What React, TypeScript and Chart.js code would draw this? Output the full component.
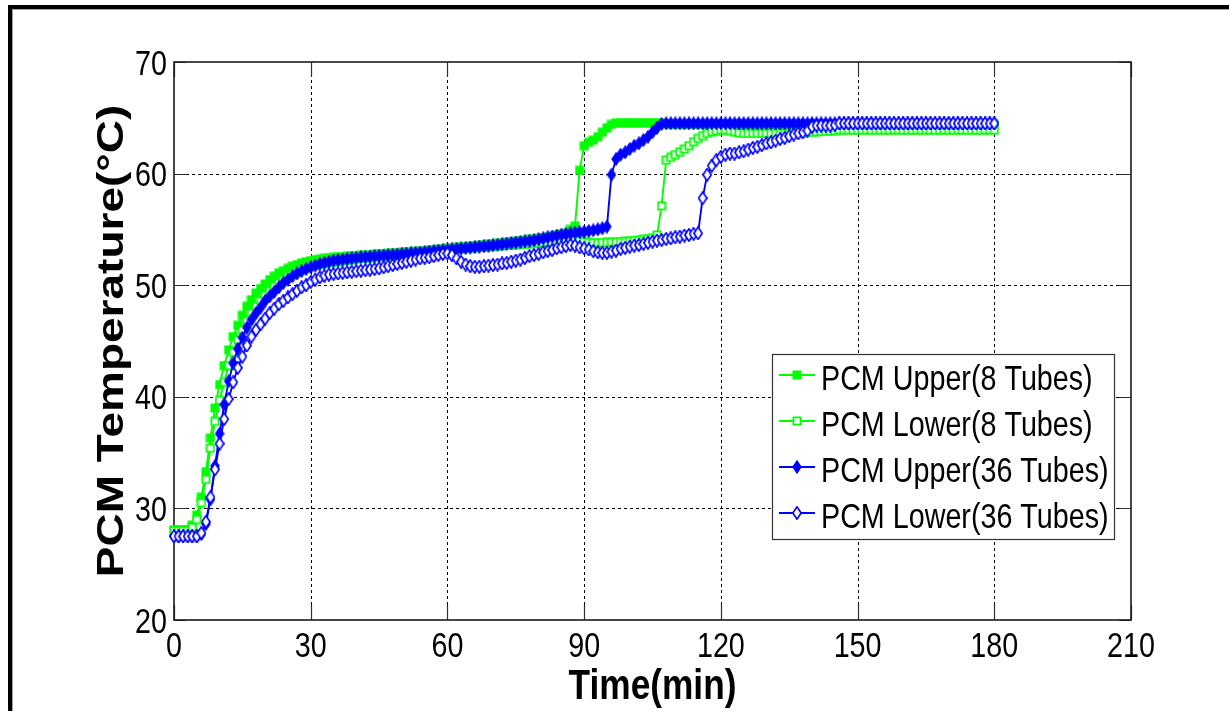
import React, { useEffect, useRef } from "react";
import { Chart, registerables } from "chart.js";

Chart.register(...registerables);

// ---------------- data ----------------
const timeMin = [
  0, 1, 2, 3, 4, 5, 6, 7, 8, 9, 10, 11, 12, 13, 14, 15, 16, 17, 18, 19,
  20, 21, 22, 23, 24, 25, 26, 27, 28, 29, 30, 31, 32, 33, 34, 35, 36, 37, 38, 39,
  40, 41, 42, 43, 44, 45, 46, 47, 48, 49, 50, 51, 52, 53, 54, 55, 56, 57, 58, 59,
  60, 61, 62, 63, 64, 65, 66, 67, 68, 69, 70, 71, 72, 73, 74, 75, 76, 77, 78, 79,
  80, 81, 82, 83, 84, 85, 86, 87, 88, 89, 90, 91, 92, 93, 94, 95, 96, 97, 98, 99,
  100, 101, 102, 103, 104, 105, 106, 107, 108, 109, 110, 111, 112, 113, 114, 115, 116, 117, 118, 119,
  120, 121, 122, 123, 124, 125, 126, 127, 128, 129, 130, 131, 132, 133, 134, 135, 136, 137, 138, 139,
  140, 141, 142, 143, 144, 145, 146, 147, 148, 149, 150, 151, 152, 153, 154, 155, 156, 157, 158, 159,
  160, 161, 162, 163, 164, 165, 166, 167, 168, 169, 170, 171, 172, 173, 174, 175, 176, 177, 178, 179,
  180,
];

const upper8Tubes = [
  28.1, 28.1, 28.1, 28.1, 28.5, 29.4, 31.0, 33.3, 36.3, 39.0,
  41.1, 42.8, 44.2, 45.4, 46.4, 47.3, 48.1, 48.7, 49.3, 49.7,
  50.1, 50.5, 50.8, 51.1, 51.3, 51.5, 51.7, 51.85, 52.0, 52.1,
  52.2, 52.3, 52.35, 52.4, 52.45, 52.5, 52.52, 52.55, 52.58, 52.62,
  52.65, 52.68, 52.7, 52.73, 52.77, 52.8, 52.83, 52.86, 52.89, 52.92,
  52.95, 52.98, 53.01, 53.04, 53.07, 53.1, 53.14, 53.18, 53.22, 53.26,
  53.3, 53.34, 53.38, 53.42, 53.46, 53.5, 53.54, 53.58, 53.62, 53.66,
  53.7, 53.75, 53.8, 53.85, 53.9, 53.95, 54.0, 54.05, 54.1, 54.15,
  54.2, 54.27, 54.34, 54.41, 54.48, 54.55, 54.7, 55.0, 55.3, 60.3,
  62.5, 62.8, 63.0, 63.3, 63.7, 64.1, 64.4, 64.55, 64.55, 64.55,
  64.55, 64.55, 64.55, 64.55, 64.55, 64.55, 64.55, 64.55, 64.45, 64.4,
  64.4, 64.4, 64.4, 64.4, 64.4, 64.4, 64.4, 64.4, 64.4, 64.4,
  64.4, 64.4, 64.4, 64.4, 64.4, 64.4, 64.4, 64.4, 64.4, 64.4,
  64.4, 64.4, 64.4, 64.4, 64.4, 64.4, 64.4, 64.4, 64.4, 64.4,
  64.4, 64.4, 64.4, 64.4, 64.4, 64.4, 64.4, 64.4, 64.4, 64.4,
  64.4, 64.4, 64.4, 64.4, 64.4, 64.4, 64.4, 64.4, 64.4, 64.4,
  64.4, 64.4, 64.4, 64.4, 64.4, 64.4, 64.4, 64.4, 64.4, 64.4,
  64.4, 64.4, 64.4, 64.4, 64.4, 64.4, 64.4, 64.4, 64.4, 64.4,
  64.4,
];

const lower8Tubes = [
  28.0, 28.0, 28.0, 28.0, 28.3, 29.0, 30.5, 32.6, 35.4, 37.8,
  39.7, 41.3, 42.8, 44.0, 45.1, 46.0, 46.8, 47.5, 48.1, 48.6,
  49.1, 49.5, 49.9, 50.2, 50.5, 50.8, 51.0, 51.2, 51.4, 51.55,
  51.7, 51.78, 51.86, 51.94, 52.0, 52.06, 52.12, 52.18, 52.24, 52.3,
  52.35, 52.4, 52.44, 52.48, 52.52, 52.56, 52.6, 52.64, 52.68, 52.72,
  52.76, 52.8, 52.84, 52.88, 52.92, 52.96, 53.0, 53.04, 53.08, 53.12,
  53.16, 53.2, 53.23, 53.26, 53.29, 53.32, 53.35, 53.38, 53.41, 53.44,
  53.47, 53.5, 53.53, 53.56, 53.59, 53.62, 53.65, 53.68, 53.71, 53.74,
  53.77, 53.8, 53.84, 53.88, 53.92, 53.96, 54.0, 54.05, 54.1, 54.0,
  53.9, 53.85, 53.8, 53.8, 53.82, 53.84, 53.86, 53.88, 53.9, 53.92,
  53.95, 54.0, 54.05, 54.1, 54.15, 54.25, 54.5, 57.1, 61.2, 61.45,
  61.7, 61.95, 62.2, 62.5, 62.85, 63.15, 63.4, 63.6, 63.75, 63.85,
  63.9, 63.9, 63.85, 63.75, 63.65, 63.6, 63.6, 63.6, 63.6, 63.6,
  63.6, 63.6, 63.6, 63.6, 63.6, 63.6, 63.62, 63.65, 63.68, 63.7,
  63.72, 63.75, 63.78, 63.8, 63.82, 63.85, 63.9, 63.9, 63.9, 63.9,
  63.9, 63.9, 63.9, 63.9, 63.9, 63.9, 63.9, 63.9, 63.9, 63.9,
  63.9, 63.9, 63.9, 63.9, 63.9, 63.9, 63.9, 63.9, 63.9, 63.9,
  63.9, 63.9, 63.9, 63.9, 63.9, 63.9, 63.9, 63.9, 63.9, 63.9,
  63.9,
];

const upper36Tubes = [
  27.5, 27.5, 27.5, 27.5, 27.5, 27.5, 27.7, 28.6, 30.8, 33.8,
  36.7, 39.3, 41.4, 43.0, 44.3, 45.3, 46.2, 46.9, 47.5, 48.0,
  48.6, 49.0, 49.4, 49.8, 50.2, 50.5, 50.8, 51.05, 51.25, 51.45,
  51.6, 51.75, 51.9, 52.0, 52.1, 52.2, 52.25, 52.3, 52.35, 52.4,
  52.45, 52.5, 52.53, 52.56, 52.6, 52.63, 52.66, 52.69, 52.72, 52.75,
  52.8, 52.83, 52.86, 52.89, 52.93, 52.97, 53.01, 53.05, 53.09, 53.13,
  53.17, 53.21, 53.25, 53.29, 53.33, 53.37, 53.41, 53.45, 53.49, 53.53,
  53.57, 53.62, 53.67, 53.72, 53.77, 53.82, 53.87, 53.92, 53.97, 54.02,
  54.1, 54.2, 54.28, 54.36, 54.44, 54.52, 54.58, 54.64, 54.7, 54.75,
  54.8, 54.86, 54.92, 55.0, 55.1, 55.25, 59.9, 61.3, 61.7, 61.9,
  62.2, 62.5, 62.7, 63.0, 63.3, 63.7, 64.1, 64.45, 64.5, 64.5,
  64.5, 64.5, 64.5, 64.5, 64.5, 64.5, 64.5, 64.5, 64.5, 64.5,
  64.5, 64.5, 64.5, 64.5, 64.5, 64.5, 64.5, 64.5, 64.5, 64.5,
  64.5, 64.5, 64.5, 64.5, 64.5, 64.5, 64.5, 64.5, 64.5, 64.5,
  64.5, 64.5, 64.5, 64.5, 64.5, 64.5, 64.5, 64.5, 64.5, 64.5,
  64.5, 64.5, 64.5, 64.5, 64.5, 64.5, 64.5, 64.5, 64.5, 64.5,
  64.5, 64.5, 64.5, 64.5, 64.5, 64.5, 64.5, 64.5, 64.5, 64.5,
  64.5, 64.5, 64.5, 64.5, 64.5, 64.5, 64.5, 64.5, 64.5, 64.5,
  64.5,
];

const lower36Tubes = [
  27.5, 27.5, 27.5, 27.5, 27.5, 27.5, 27.8, 28.8, 31.0, 33.5,
  35.8, 38.0, 39.8, 41.3, 42.6, 43.6, 44.6, 45.4, 46.0, 46.5,
  47.0, 47.5, 47.9, 48.3, 48.6, 48.9, 49.2, 49.5, 49.8, 50.0,
  50.3, 50.5, 50.7, 50.85, 50.95, 51.0, 51.05, 51.1, 51.15, 51.2,
  51.25, 51.3, 51.35, 51.4, 51.45, 51.5, 51.6, 51.7, 51.8, 51.9,
  52.0, 52.1, 52.2, 52.3, 52.4, 52.45, 52.5, 52.6, 52.7, 52.8,
  52.85, 52.7, 52.4, 52.1, 51.85, 51.7, 51.65, 51.65, 51.7, 51.75,
  51.8, 51.85, 51.95, 52.0, 52.1, 52.2, 52.3, 52.45, 52.6, 52.7,
  52.8, 52.95, 53.05, 53.15, 53.3, 53.4, 53.5, 53.6, 53.55, 53.4,
  53.3, 53.2, 53.05, 52.95, 52.9, 52.9, 53.0, 53.1, 53.25, 53.35,
  53.45, 53.55, 53.6, 53.7, 53.8, 53.9, 54.0, 54.05, 54.15, 54.2,
  54.3, 54.35, 54.45, 54.5, 54.6, 54.65, 57.8, 59.9, 60.7, 61.2,
  61.5, 61.7, 61.8, 61.8, 61.9, 62.0, 62.15, 62.3, 62.4, 62.55,
  62.7, 62.8, 62.95, 63.1, 63.2, 63.35, 63.5, 63.6, 63.7, 63.85,
  64.2, 64.3, 64.3, 64.3, 64.3, 64.35, 64.5, 64.5, 64.5, 64.5,
  64.5, 64.5, 64.5, 64.5, 64.5, 64.5, 64.5, 64.5, 64.5, 64.5,
  64.5, 64.5, 64.5, 64.5, 64.5, 64.5, 64.5, 64.5, 64.5, 64.5,
  64.5, 64.5, 64.5, 64.5, 64.5, 64.5, 64.5, 64.5, 64.5, 64.5,
  64.5,
];

const seriesLabels = [
  "PCM Upper(8 Tubes)",
  "PCM Lower(8 Tubes)",
  "PCM Upper(36 Tubes)",
  "PCM Lower(36 Tubes)",
];

const xTicks = [0, 30, 60, 90, 120, 150, 180, 210];
const yTicks = [20, 30, 40, 50, 60, 70];
const xTitle = "Time(min)";
const yTitle = "PCM Temperature(°C)";

// ---------------- styling ----------------
const GREEN = "#00ff00";
const BLUE = "#0000ff";
const FONT = "'Liberation Sans', Arial, sans-serif";
const SQUEEZE = 0.82; // the original picture is horizontally compressed

function makeMarker(kind: string): HTMLCanvasElement {
  const c = document.createElement("canvas");
  const ctx = c.getContext("2d") as CanvasRenderingContext2D;
  if (kind === "squareFilled" || kind === "squareOpen") {
    c.width = 10;
    c.height = 10;
    if (kind === "squareFilled") {
      ctx.fillStyle = GREEN;
      ctx.fillRect(0.5, 0.5, 9, 9);
    } else {
      ctx.fillStyle = "#ffffff";
      ctx.fillRect(1, 1, 8, 8);
      ctx.strokeStyle = GREEN;
      ctx.lineWidth = 1.8;
      ctx.strokeRect(1.4, 1.4, 7.2, 7.2);
    }
  } else {
    c.width = 10;
    c.height = 14;
    ctx.beginPath();
    ctx.moveTo(5, 0.9);
    ctx.lineTo(9.1, 7);
    ctx.lineTo(5, 13.1);
    ctx.lineTo(0.9, 7);
    ctx.closePath();
    if (kind === "diamondFilled") {
      ctx.fillStyle = BLUE;
      ctx.fill();
      ctx.strokeStyle = BLUE;
      ctx.lineWidth = 1.2;
      ctx.stroke();
    } else {
      ctx.fillStyle = "#ffffff";
      ctx.fill();
      ctx.strokeStyle = BLUE;
      ctx.lineWidth = 1.7;
      ctx.stroke();
    }
  }
  return c;
}

function drawSqueezedText(
  ctx: CanvasRenderingContext2D,
  text: string,
  x: number,
  y: number,
  size: number,
  bold: boolean,
  align: CanvasTextAlign,
  rotated = false
) {
  ctx.save();
  ctx.translate(x, y);
  ctx.scale(SQUEEZE, 1);
  if (rotated) ctx.rotate(-Math.PI / 2);
  ctx.font = `${bold ? "bold " : ""}${size}px ${FONT}`;
  ctx.fillStyle = "#000000";
  ctx.textAlign = align;
  ctx.textBaseline = "alphabetic";
  ctx.fillText(text, 0, 0);
  ctx.restore();
}

export default function App() {
  const canvasRef = useRef<HTMLCanvasElement | null>(null);

  useEffect(() => {
    const canvas = canvasRef.current;
    if (!canvas) return;

    const markers = [
      makeMarker("squareFilled"),
      makeMarker("squareOpen"),
      makeMarker("diamondFilled"),
      makeMarker("diamondOpen"),
    ];
    const colors = [GREEN, GREEN, BLUE, BLUE];
    const seriesValues = [upper8Tubes, lower8Tubes, upper36Tubes, lower36Tubes];

    const matlabPlugin = {
      id: "matlabLook",
      beforeDraw(chart: any) {
        const { ctx, width, height } = chart;
        ctx.save();
        ctx.fillStyle = "#ffffff";
        ctx.fillRect(0, 0, width, height);
        ctx.fillStyle = "#000000";
        ctx.fillRect(8, 5, width - 8, 4);
        ctx.fillRect(8, 5, 4, height - 5);
        ctx.fillStyle = "#a0a0a0";
        ctx.fillRect(12, 9, width - 12, 1);
        ctx.fillRect(12, 9, 1, height - 9);
        ctx.restore();
      },
      beforeDatasetsDraw(chart: any) {
        const { ctx, chartArea: a, scales } = chart;
        const xs = scales.x;
        const ys = scales.y;
        ctx.save();
        ctx.strokeStyle = "#000000";
        ctx.lineWidth = 1;
        ctx.setLineDash([3, 3]);
        ctx.beginPath();
        for (const v of xTicks) {
          if (v === xTicks[0] || v === xTicks[xTicks.length - 1]) continue;
          const px = Math.round(xs.getPixelForValue(v)) + 0.5;
          ctx.moveTo(px, a.top);
          ctx.lineTo(px, a.bottom);
        }
        for (const v of yTicks) {
          if (v === yTicks[0] || v === yTicks[yTicks.length - 1]) continue;
          const py = Math.round(ys.getPixelForValue(v)) + 0.5;
          ctx.moveTo(a.left, py);
          ctx.lineTo(a.right, py);
        }
        ctx.stroke();
        ctx.setLineDash([]);
        ctx.strokeStyle = "#303030";
        ctx.lineWidth = 1.2;
        ctx.beginPath();
        for (const v of xTicks) {
          const px = Math.round(xs.getPixelForValue(v)) + 0.5;
          ctx.moveTo(px, a.bottom);
          ctx.lineTo(px, a.bottom - 15);
          ctx.moveTo(px, a.top);
          ctx.lineTo(px, a.top + 15);
        }
        for (const v of yTicks) {
          const py = Math.round(ys.getPixelForValue(v)) + 0.5;
          ctx.moveTo(a.left, py);
          ctx.lineTo(a.left + 12, py);
          ctx.moveTo(a.right, py);
          ctx.lineTo(a.right - 12, py);
        }
        ctx.stroke();
        ctx.strokeStyle = "#1a1a1a";
        ctx.lineWidth = 1.6;
        ctx.strokeRect(a.left, a.top, a.right - a.left, a.bottom - a.top);
        ctx.restore();
      },
      afterDatasetsDraw(chart: any) {
        const { ctx, chartArea: a, scales } = chart;
        const xs = scales.x;
        const ys = scales.y;
        ctx.save();
        for (const v of xTicks) {
          drawSqueezedText(ctx, String(v), xs.getPixelForValue(v), a.bottom + 37, 35, false, "center");
        }
        for (const v of yTicks) {
          drawSqueezedText(ctx, String(v), a.left - 7, ys.getPixelForValue(v) + 12.5, 35, false, "right");
        }
        drawSqueezedText(ctx, xTitle, (a.left + a.right) / 2, 699, 43, true, "center");
        drawSqueezedText(ctx, yTitle, 123, (a.top + a.bottom) / 2, 46, true, "center", true);

        const lx = 772.5;
        const ly = 354.5;
        const lw = 342;
        const lh = 185;
        ctx.fillStyle = "#ffffff";
        ctx.fillRect(lx, ly, lw, lh);
        ctx.strokeStyle = "#333333";
        ctx.lineWidth = 1.2;
        ctx.strokeRect(lx, ly, lw, lh);
        const rows = [375, 421, 467, 513];
        for (let i = 0; i < seriesLabels.length; i++) {
          const ry = rows[i];
          ctx.strokeStyle = colors[i];
          ctx.lineWidth = 1.9;
          ctx.beginPath();
          ctx.moveTo(779, ry);
          ctx.lineTo(815, ry);
          ctx.stroke();
          const m = markers[i];
          ctx.drawImage(m, 797 - m.width / 2, ry - m.height / 2);
          drawSqueezedText(ctx, seriesLabels[i], 821, ry + 15, 35, false, "left");
        }
        ctx.restore();
      },
    };

    const orders = [4, 3, 2, 1];
    const chart = new Chart(canvas, {
      type: "line",
      data: {
        datasets: seriesValues.map((vals, i) => ({
          label: seriesLabels[i],
          data: timeMin.map((t, j) => ({ x: t, y: vals[j] })),
          borderColor: colors[i],
          backgroundColor: colors[i],
          borderWidth: 1.9,
          pointStyle: markers[i] as any,
          pointRadius: 4,
          pointHoverRadius: 4,
          tension: 0,
          fill: false,
          clip: false as any,
          order: orders[i],
        })),
      },
      options: {
        animation: false,
        responsive: false,
        events: [],
        layout: { padding: { left: 0, top: 62, right: 98, bottom: 0 } },
        plugins: {
          legend: { display: false },
          tooltip: { enabled: false },
        },
        scales: {
          x: {
            type: "linear",
            min: xTicks[0],
            max: xTicks[xTicks.length - 1],
            ticks: { display: false, stepSize: 30 },
            grid: { display: false },
            border: { display: false },
            afterFit: (s: any) => {
              s.height = 91;
            },
          },
          y: {
            type: "linear",
            min: yTicks[0],
            max: yTicks[yTicks.length - 1],
            ticks: { display: false, stepSize: 10 },
            grid: { display: false },
            border: { display: false },
            afterFit: (s: any) => {
              s.width = 174;
            },
          },
        },
      },
      plugins: [matlabPlugin],
    } as any);

    return () => {
      chart.destroy();
    };
  }, []);

  return (
    <div
      style={{
        position: "fixed",
        left: 0,
        top: 0,
        width: 1229,
        height: 711,
        background: "#ffffff",
        overflow: "hidden",
      }}
    >
      <canvas ref={canvasRef} width={1229} height={711} style={{ display: "block" }} />
    </div>
  );
}
